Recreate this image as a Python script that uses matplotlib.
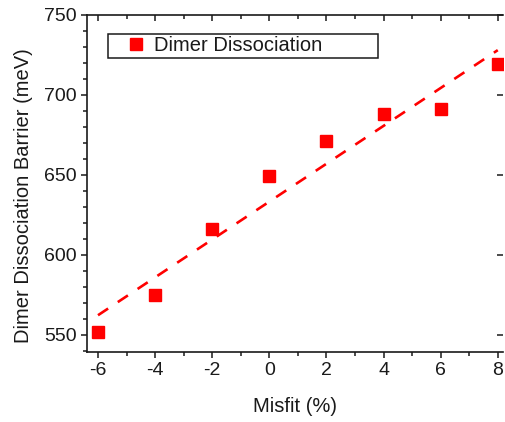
import numpy as np
import matplotlib.pyplot as plt
from matplotlib.patches import Rectangle
from matplotlib.ticker import MultipleLocator

plt.rcParams["font.family"] = ["Liberation Sans", "DejaVu Sans"]
plt.rcParams["axes.unicode_minus"] = False

# ── data ──────────────────────────────────────────────────────────────────────
misfit = [-6, -4, -2, 0, 2, 4, 6, 8]
barrier = [552, 575, 616, 649, 671, 688, 691, 719]

# linear fit drawn as dashed line
slope, intercept = np.polyfit(misfit, barrier, 1)
fit_x = np.array([misfit[0], misfit[-1]])
fit_y = slope * fit_x + intercept

RED = "#ff0000"
INK = "#1a1a1a"

# ── plot ──────────────────────────────────────────────────────────────────────
fig = plt.figure(figsize=(5.05, 4.22), dpi=100)
ax = fig.add_axes([0.172, 0.166, 0.825, 0.799])

ax.plot(fit_x, fit_y, color=RED, linewidth=1.9, dashes=(4.6, 4.4))
ax.plot(misfit, barrier, linestyle="none", marker="s", markersize=8.8,
        color=RED, label="Dimer Dissociation")

ax.set_xlim(-6.39, 8.2)
ax.set_ylim(539.4, 750)
ax.xaxis.set_major_locator(MultipleLocator(2))
ax.xaxis.set_minor_locator(MultipleLocator(1))
ax.yaxis.set_major_locator(MultipleLocator(50))
ax.yaxis.set_minor_locator(MultipleLocator(10))

ax.tick_params(axis="both", which="both", labelsize=14, width=1.1,
               color=INK, labelcolor=INK, direction="out", pad=3)
ax.tick_params(which="major", length=4.5)
ax.tick_params(which="minor", length=2.8)
ax.tick_params(axis="x", top=True, which="both")
ax.tick_params(axis="y", right=True, which="major")
# top ticks point inward, right ticks point inward
for t in ax.xaxis.get_major_ticks() + ax.xaxis.get_minor_ticks():
    t.tick2line.set_marker(3)
for t in ax.yaxis.get_major_ticks():
    t.tick2line.set_marker(0)

for s in ax.spines.values():
    s.set_linewidth(1.2)
    s.set_color(INK)
ax.spines["right"].set_visible(False)

ax.set_xlabel("Misfit (%)", fontsize=14.5, labelpad=13, color=INK)
ax.set_ylabel("Dimer Dissociation Barrier (meV)", fontsize=14.5, color=INK)
ax.yaxis.set_label_coords(-0.13, 0.464)

# legend: frame drawn separately so it can be wider than the text
ax.add_patch(Rectangle((0.0505, 0.8724), 0.649, 0.0712, transform=ax.transAxes,
                       facecolor="white", edgecolor=INK, linewidth=1.1,
                       zorder=4))
leg = ax.legend(loc="center left", bbox_to_anchor=(0.094, 0.908),
                fontsize=14.5, frameon=False, borderpad=0, borderaxespad=0,
                handletextpad=0.4, handlelength=1.0, markerscale=0.95)
leg.set_zorder(5)
for txt in leg.get_texts():
    txt.set_color(INK)

fig.savefig("out.png", dpi=100)
